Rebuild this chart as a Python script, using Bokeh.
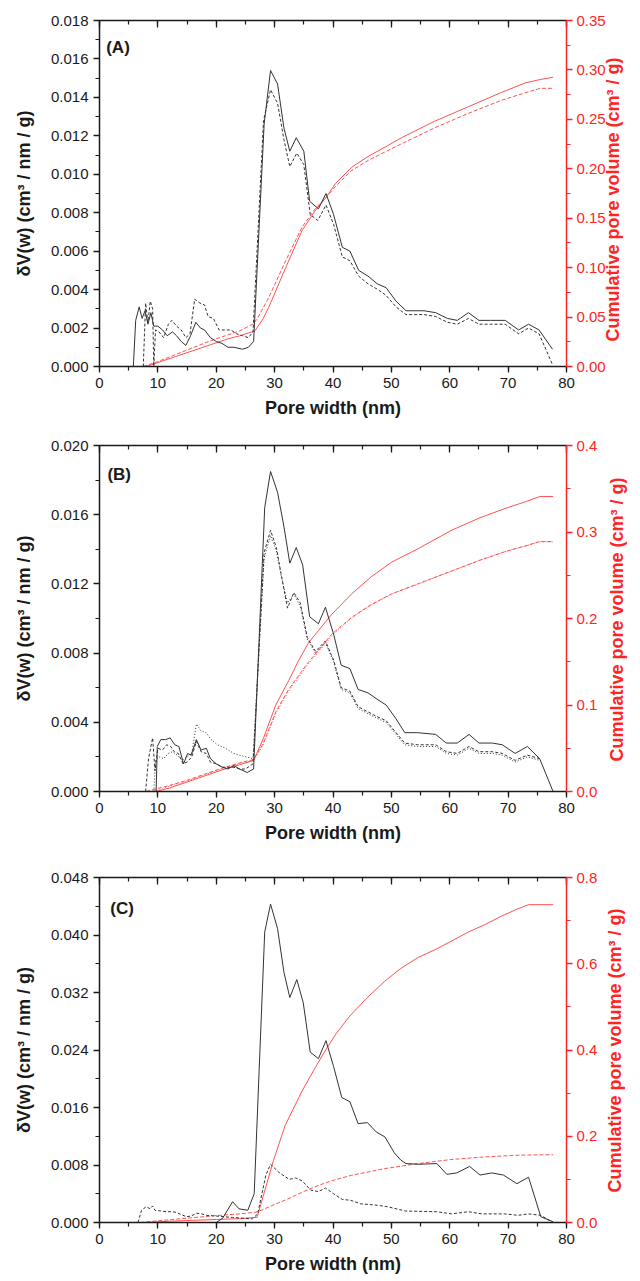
import math
from bokeh.plotting import figure
from bokeh.models import (Range1d, LinearAxis, SingleIntervalTicker,
                          NumeralTickFormatter, CustomJSTickFormatter, Label)
from bokeh.layouts import column
from bokeh.embed import file_html
from bokeh.resources import INLINE

# ---------------- data ----------------
# Panel A
A_X_SOLID = [5.8, 6.2, 6.8, 7.3, 7.8, 8.3, 8.8, 9.3, 10.0, 10.8, 11.6, 12.5, 13.2, 14.0, 14.8, 15.6, 16.5, 17.3, 18.0, 19.0,
             20.0, 21.0, 22.0, 23.0, 24.5, 25.5, 26.4, 28.2, 29.3, 30.5, 31.6, 32.6, 33.7, 35.0, 36.0, 37.5, 38.8, 40.1, 41.6, 42.9,
             44.4, 46.0, 47.6, 49.1, 50.8, 52.5, 55.6, 57.6, 59.6, 61.3, 63.2, 65.0, 67.0, 69.5, 71.8, 73.5, 75.3, 77.6]
A_V_SOLID = [0.0, 0.0024, 0.0031, 0.0025, 0.0029, 0.0022, 0.0028, 0.0021, 0.0021, 0.0019, 0.0016, 0.0018, 0.0016, 0.0013, 0.0011, 0.0016, 0.0023, 0.0020, 0.0019, 0.0015,
             0.0013, 0.0012, 0.0010, 0.0010, 0.0009, 0.0010, 0.0013, 0.0126, 0.0154, 0.0147, 0.0124, 0.0112, 0.0119, 0.0112, 0.0086, 0.0082, 0.0090, 0.0079, 0.0062, 0.0060,
             0.0050, 0.0047, 0.0043, 0.0041, 0.0034, 0.0029, 0.0029, 0.0028, 0.0025, 0.0024, 0.0028, 0.0024, 0.0024, 0.0024, 0.0019, 0.0022, 0.0019, 0.0009]
A_X_DASH = [7.5, 7.9, 8.3, 8.7, 9.1, 9.3, 9.6, 10.2, 11.0, 11.8, 12.4, 13.2, 14.0, 14.8, 15.5, 16.3, 17.2, 18.0, 18.6, 19.5,
            20.5, 21.5, 22.5, 23.5, 24.5, 25.5, 26.3, 28.1, 29.3, 30.5, 31.6, 32.6, 33.8, 35.0, 36.1, 37.4, 38.8, 40.1, 41.6, 42.9,
            44.4, 46.0, 47.7, 49.1, 50.8, 52.5, 55.6, 57.6, 59.6, 61.3, 63.2, 65.0, 67.0, 69.5, 71.8, 73.5, 75.3, 77.6]
A_V_DASH = [0.0, 0.0033, 0.0023, 0.0034, 0.0030, 0.0, 0.0019, 0.0018, 0.0015, 0.0022, 0.0024, 0.0021, 0.0019, 0.0015, 0.0017, 0.0035, 0.0033, 0.0032, 0.0026, 0.0025,
            0.0019, 0.0019, 0.0019, 0.0017, 0.0016, 0.0015, 0.0018, 0.0128, 0.0144, 0.0137, 0.0118, 0.0104, 0.0111, 0.0105, 0.0079, 0.0076, 0.0084, 0.0074, 0.0057, 0.0055,
            0.0047, 0.0043, 0.0040, 0.0037, 0.0031, 0.0027, 0.0027, 0.0026, 0.0023, 0.0022, 0.0025, 0.0022, 0.0022, 0.0022, 0.0017, 0.0020, 0.0017, 0.0001]
A_X_CUM_S = [8.0, 10.0, 13.0, 16.0, 19.0, 22.0, 24.0, 26.6, 28.0, 29.0, 31.9, 34.7, 37.0, 38.8, 40.4, 43.2, 46.0, 48.9, 51.7, 57.4, 63.0, 68.7, 73.0, 75.5, 77.7]
A_C_S = [0.0, 0.004, 0.010, 0.016, 0.022, 0.028, 0.031, 0.036, 0.048, 0.060, 0.100, 0.1376, 0.158, 0.171, 0.1848, 0.2016, 0.2124, 0.2219, 0.2313, 0.2481, 0.2623, 0.2769, 0.287, 0.2903, 0.2926]
A_X_CUM_D = [7.5, 10.0, 13.0, 16.0, 19.0, 22.0, 24.0, 26.3, 27.0, 29.0, 31.9, 34.7, 37.0, 38.8, 40.4, 43.2, 46.0, 48.9, 51.7, 57.4, 63.0, 68.7, 73.0, 75.5, 77.7]
A_C_D = [0.0, 0.005, 0.012, 0.019, 0.026, 0.032, 0.036, 0.043, 0.048, 0.0698, 0.107, 0.141, 0.160, 0.171, 0.182, 0.1983, 0.2084, 0.217, 0.2252, 0.2414, 0.2556, 0.269, 0.277, 0.2814, 0.2814]

# Panel B
B_X_SOLID = [9.7, 9.9, 10.5, 11.3, 12.1, 12.9, 13.6, 14.4, 15.1, 15.7, 16.6, 17.4, 18.3, 19.0, 20.0, 21.1, 22.0, 23.0, 24.0, 25.3,
             26.4, 28.3, 29.3, 30.5, 31.6, 32.6, 33.7, 34.8, 36.0, 37.5, 38.7, 40.1, 41.4, 42.9, 44.3, 46.0, 47.7, 49.1, 50.8, 52.3,
             54.5, 57.6, 59.4, 61.3, 63.3, 65.0, 67.3, 69.0, 71.2, 73.3, 75.4, 77.7]
B_V_SOLID = [0.0, 0.0026, 0.0030, 0.0030, 0.0031, 0.0027, 0.0026, 0.0016, 0.0022, 0.0021, 0.0030, 0.0024, 0.0025, 0.0019, 0.0016, 0.0014, 0.0013, 0.0015, 0.0013, 0.0011,
             0.0013, 0.0164, 0.0185, 0.0173, 0.0153, 0.0132, 0.0141, 0.0131, 0.0101, 0.0097, 0.01065, 0.0091, 0.0073, 0.0071, 0.0059, 0.0057, 0.0053, 0.0050, 0.0042, 0.0034,
             0.0034, 0.0033, 0.0028, 0.0028, 0.0033, 0.0028, 0.0028, 0.0027, 0.0022, 0.0026, 0.0019, 0.0]
B_X_DASH = [7.9, 8.4, 9.1, 9.5, 10.0, 10.8, 11.5, 12.2, 12.8, 13.5, 14.3, 15.0, 15.8, 16.6, 17.4, 18.3, 19.0, 20.0, 21.0, 22.0,
            23.0, 24.0, 25.0, 26.3, 28.2, 29.3, 30.3, 31.1, 32.2, 33.3, 34.4, 35.6, 37.0, 38.7, 40.1, 41.4, 42.9, 44.3, 46.0, 47.7,
            49.1, 50.8, 52.3, 54.5, 57.6, 59.4, 61.3, 63.3, 65.0, 67.3, 69.0, 71.2, 73.3, 75.4]
B_V_DASH = [0.0, 0.0019, 0.0031, 0.0012, 0.0025, 0.0024, 0.0027, 0.0026, 0.0023, 0.0022, 0.0016, 0.0017, 0.0020, 0.0029, 0.0023, 0.0022, 0.0017, 0.0016, 0.0014, 0.0014,
            0.0014, 0.0013, 0.0013, 0.0016, 0.0138, 0.0151, 0.0141, 0.0126, 0.0106, 0.0115, 0.0109, 0.0089, 0.0081, 0.0087, 0.0076, 0.0060, 0.0058, 0.0049, 0.0046, 0.0043,
            0.0041, 0.0034, 0.0028, 0.0027, 0.0027, 0.0023, 0.0022, 0.0026, 0.0023, 0.0023, 0.0022, 0.0018, 0.0021, 0.0019]
B_X_DOT = [9.3, 9.6, 10.3, 11.0, 11.8, 12.5, 13.3, 14.2, 15.0, 15.8, 16.6, 17.4, 18.3, 19.1, 20.2, 21.6, 23.0, 24.0, 25.1, 26.3,
           28.2, 29.3, 30.3, 31.1, 32.2, 33.3, 34.4, 35.6, 37.0, 38.7, 40.1, 41.4, 42.9, 44.3, 46.0, 47.7, 49.1, 50.8, 52.3, 54.5,
           57.6, 59.4, 61.3, 63.3, 65.0, 67.3, 69.0, 71.2, 73.3, 75.4]
B_V_DOT = [0.0, 0.0018, 0.0020, 0.0019, 0.0022, 0.0023, 0.0021, 0.0018, 0.0020, 0.0022, 0.0039, 0.0035, 0.0034, 0.0030, 0.0027, 0.0025, 0.0022, 0.0021, 0.0020, 0.0019,
           0.0135, 0.0148, 0.0139, 0.0125, 0.0109, 0.0114, 0.0107, 0.0088, 0.0080, 0.0086, 0.0075, 0.0059, 0.0057, 0.0048, 0.0045, 0.0042, 0.0040, 0.0033, 0.0027, 0.0026,
           0.0026, 0.0022, 0.0021, 0.0025, 0.0022, 0.0022, 0.0021, 0.0017, 0.0020, 0.0018]
B_X_CUM_S = [9.7, 12.0, 15.0, 18.0, 21.0, 24.0, 26.4, 28.0, 30.2, 32.4, 34.0, 35.8, 37.5, 39.8, 43.2, 46.5, 50.0, 54.5, 60.2, 65.0, 69.8, 73.0, 75.4, 77.7]
B_C_S = [0.0, 0.004, 0.011, 0.018, 0.025, 0.031, 0.036, 0.060, 0.100, 0.128, 0.150, 0.172, 0.186, 0.205, 0.2284, 0.248, 0.265, 0.2804, 0.3016, 0.316, 0.328, 0.335, 0.341, 0.341]
B_X_CUM_D = [8.0, 12.0, 15.0, 18.0, 21.0, 24.0, 26.4, 28.0, 30.2, 32.4, 35.6, 37.5, 39.8, 43.2, 46.5, 50.0, 54.5, 60.2, 65.0, 69.8, 73.0, 75.4, 77.7]
B_C_D = [0.0, 0.007, 0.013, 0.020, 0.027, 0.033, 0.037, 0.055, 0.092, 0.118, 0.148, 0.163, 0.182, 0.2013, 0.216, 0.2284, 0.240, 0.2546, 0.267, 0.278, 0.284, 0.289, 0.289]
B_X_CUM_T = [9.3, 12.0, 15.0, 18.0, 21.0, 24.0, 26.4, 28.0, 30.2, 32.4, 35.6, 37.5, 39.8, 43.2, 46.5, 50.0, 54.5, 60.2, 65.0, 69.8, 73.0, 75.4, 77.7]
B_C_T = [0.0, 0.006, 0.012, 0.019, 0.026, 0.032, 0.036, 0.053, 0.090, 0.116, 0.146, 0.161, 0.180, 0.2005, 0.2155, 0.228, 0.2395, 0.2545, 0.267, 0.278, 0.284, 0.2885, 0.2885]

# Panel C
C_X_SOLID = [20.0, 21.1, 22.8, 23.9, 25.4, 26.5, 28.3, 29.3, 30.5, 31.6, 32.6, 33.8, 34.9, 36.1, 37.5, 38.8, 40.1, 41.5, 42.9,
             44.3, 45.9, 47.4, 48.9, 50.5, 51.6, 52.5, 54.7, 57.8, 59.5, 61.2, 63.4, 65.2, 67.2, 69.2, 71.5, 73.5, 75.6, 77.7]
C_V_SOLID = [0.0, 0.0006, 0.0029, 0.0019, 0.0017, 0.0040, 0.0404, 0.0443, 0.0409, 0.0348, 0.0313, 0.0338, 0.0306, 0.0237, 0.0228, 0.0253, 0.0217, 0.0174, 0.0168,
             0.01375, 0.0139, 0.0126, 0.0119, 0.0097, 0.0087, 0.0082, 0.0081, 0.0082, 0.0067, 0.0069, 0.0078, 0.0066, 0.0069, 0.0066, 0.0054, 0.0063, 0.0008, 0.0001]
C_X_DASH = [6.6, 7.2, 8.0, 8.7, 9.1, 9.5, 10.5, 11.5, 12.5, 13.2, 14.0, 14.9, 15.7, 16.6, 17.5, 18.3, 20.0, 22.8, 24.5, 26.2,
            27.1, 28.5, 29.3, 30.7, 32.5, 33.6, 34.7, 36.2, 37.5, 38.7, 40.1, 41.6, 43.0, 44.7, 47.6, 49.3, 52.4, 57.8, 60.3, 63.2,
            65.5, 69.4, 71.7, 73.5, 75.6, 77.7]
C_V_DASH = [0.0, 0.0017, 0.0022, 0.0019, 0.0023, 0.0017, 0.0016, 0.0015, 0.0015, 0.0014, 0.0011, 0.0008, 0.0009, 0.0013, 0.0012, 0.0010, 0.0009, 0.0007, 0.0006, 0.0005,
            0.0012, 0.0066, 0.0081, 0.0070, 0.0060, 0.0062, 0.0058, 0.0045, 0.0043, 0.0048, 0.0040, 0.0032, 0.0031, 0.0026, 0.0024, 0.0022, 0.0016, 0.0015, 0.0012, 0.0015,
            0.0012, 0.0012, 0.0010, 0.0012, 0.0010, 0.0]
C_X_CUM_S = [8.0, 12.0, 16.0, 20.0, 24.0, 27.0, 29.8, 31.8, 34.7, 37.0, 39.0, 40.5, 42.7, 45.6, 48.9, 51.7, 54.5, 57.7, 60.2, 63.1, 65.9, 68.8, 71.6, 73.5, 77.7]
C_C_S = [0.0, 0.003, 0.005, 0.007, 0.009, 0.012, 0.144, 0.225, 0.305, 0.360, 0.406, 0.437, 0.476, 0.518, 0.560, 0.590, 0.614, 0.634, 0.652, 0.673, 0.690, 0.710, 0.727, 0.737, 0.737]
C_X_CUM_D = [7.0, 10.0, 15.0, 20.0, 24.0, 26.8, 28.0, 30.0, 32.0, 35.0, 37.5, 39.8, 43.2, 48.9, 54.5, 60.2, 65.9, 71.6, 75.5, 77.7]
C_C_D = [0.0, 0.004, 0.010, 0.016, 0.020, 0.024, 0.030, 0.042, 0.053, 0.072, 0.086, 0.097, 0.1096, 0.125, 0.1366, 0.146, 0.152, 0.156, 0.157, 0.157]

X_LABEL = "Pore width (nm)"
Y_LABEL = "δV(w) (cm³ / nm / g)"
R_LABEL = "Cumulative pore volume (cm³ / g)"

# ---------------- styling ----------------
FONT = "Liberation Sans"
AX = "#1a1a1a"
BLK = "#333333"
RAX = "#ff2424"
RLN = "#ff5252"
EPS = 1 + 1e-9


def panel(letter, lab_xy, ymax, yint, yfmt, rmax, rint, rfmt, height, top, bottom, rstand, lead):
    p = figure(width=640, height=height, x_range=Range1d(0, 80), y_range=Range1d(0, ymax * EPS),
               output_backend="svg", toolbar_location=None,
               x_axis_location=None, y_axis_location=None,
               min_border_left=99, min_border_right=70, min_border_top=top, min_border_bottom=bottom)
    p.outline_line_color = None
    p.xgrid.visible = False
    p.ygrid.visible = False
    p.background_fill_color = "white"
    p.border_fill_color = "white"
    p.extra_y_ranges = {"cum": Range1d(0, rmax * EPS)}

    def style(ax, color):
        ax.axis_line_color = color
        ax.axis_line_width = 1.5
        ax.major_tick_line_color = color
        ax.minor_tick_line_color = color
        ax.major_tick_line_width = 1.3
        ax.minor_tick_line_width = 1.2
        ax.major_label_text_color = color
        ax.major_label_text_font = FONT
        ax.major_label_text_font_size = "15px"
        ax.axis_label_text_color = color
        ax.axis_label_text_font = FONT
        ax.axis_label_text_font_size = "18px"
        ax.axis_label_text_font_style = "bold"

    xb = LinearAxis(ticker=SingleIntervalTicker(interval=10, num_minor_ticks=2),
                    formatter=NumeralTickFormatter(format="0"), axis_label=X_LABEL)
    style(xb, AX)
    xb.major_tick_out = 6
    xb.major_tick_in = 0
    xb.minor_tick_out = 4
    xb.minor_tick_in = 0
    xb.major_label_standoff = 5
    xb.axis_label_standoff = 7
    p.add_layout(xb, "below")

    xt = LinearAxis(ticker=SingleIntervalTicker(interval=10, num_minor_ticks=2),
                    formatter=CustomJSTickFormatter(code="return '';"))
    style(xt, AX)
    xt.major_tick_out = 0
    xt.major_tick_in = 7
    xt.minor_tick_out = 0
    xt.minor_tick_in = 4
    xt.major_label_standoff = 0
    xt.major_label_text_font_size = "1px"
    p.add_layout(xt, "above")

    yl = LinearAxis(ticker=SingleIntervalTicker(interval=yint, num_minor_ticks=2),
                    formatter=NumeralTickFormatter(format=yfmt), axis_label=Y_LABEL)
    style(yl, AX)
    yl.major_tick_out = 6
    yl.major_tick_in = 0
    yl.minor_tick_out = 4
    yl.minor_tick_in = 0
    yl.major_label_standoff = 5
    yl.axis_label_standoff = 14
    p.add_layout(yl, "left")

    # right axis: its title reads bottom-to-top, starting a little above the frame's bottom
    yr = LinearAxis(y_range_name="cum", ticker=SingleIntervalTicker(interval=rint, num_minor_ticks=2),
                    formatter=NumeralTickFormatter(format=rfmt), axis_label="\u00a0" * lead + R_LABEL)
    style(yr, RAX)
    yr.major_tick_out = 6
    yr.major_tick_in = 0
    yr.minor_tick_out = 4
    yr.minor_tick_in = 0
    yr.major_label_standoff = 4
    yr.axis_label_standoff = rstand
    yr.axis_label_orientation = math.pi / 2
    try:
        yr.axis_label_align = "start"
    except Exception:
        pass
    p.add_layout(yr, "right")

    p.add_layout(Label(x=lab_xy[0], y=lab_xy[1], text=letter, text_font=FONT, text_font_size="17px",
                       text_font_style="bold", text_color=AX, text_baseline="middle"))
    return p


pA = panel("(A)", (1.15, 0.0166), 0.018, 0.002, "0.000", 0.35, 0.05, "0.00", 433, 20, 67, 4, 5)
pA.line(A_X_CUM_S, A_C_S, y_range_name="cum", line_color=RLN, line_width=1)
pA.line(A_X_CUM_D, A_C_D, y_range_name="cum", line_color=RLN, line_width=1, line_dash="4 2")
pA.line(A_X_SOLID, A_V_SOLID, line_color=BLK, line_width=1)
pA.line(A_X_DASH, A_V_DASH, line_color=BLK, line_width=1, line_dash="3 2")

pB = panel("(B)", (1.35, 0.0183), 0.020, 0.004, "0.000", 0.4, 0.1, "0.0", 432, 12, 74, 17, 6)
pB.line(B_X_CUM_S, B_C_S, y_range_name="cum", line_color=RLN, line_width=1)
pB.line(B_X_CUM_D, B_C_D, y_range_name="cum", line_color=RLN, line_width=1, line_dash="4 2")
pB.line(B_X_CUM_T, B_C_T, y_range_name="cum", line_color=RLN, line_width=1, line_dash="1 2")
pB.line(B_X_SOLID, B_V_SOLID, line_color=BLK, line_width=1)
pB.line(B_X_DASH, B_V_DASH, line_color=BLK, line_width=1, line_dash="3 2")
pB.line(B_X_DOT, B_V_DOT, line_color=BLK, line_width=1, line_dash="1 2")

pC = panel("(C)", (1.85, 0.0437), 0.048, 0.008, "0.000", 0.8, 0.2, "0.0", 416, 12, 59, 15, 6)
pC.line(C_X_CUM_S, C_C_S, y_range_name="cum", line_color=RLN, line_width=1)
pC.line(C_X_CUM_D, C_C_D, y_range_name="cum", line_color=RLN, line_width=1, line_dash="4 2")
pC.line(C_X_SOLID, C_V_SOLID, line_color=BLK, line_width=1)
pC.line(C_X_DASH, C_V_DASH, line_color=BLK, line_width=1, line_dash="3 2")

layout = column(pA, pB, pC, spacing=0)
open("out.html", "w").write(file_html(layout, INLINE))
